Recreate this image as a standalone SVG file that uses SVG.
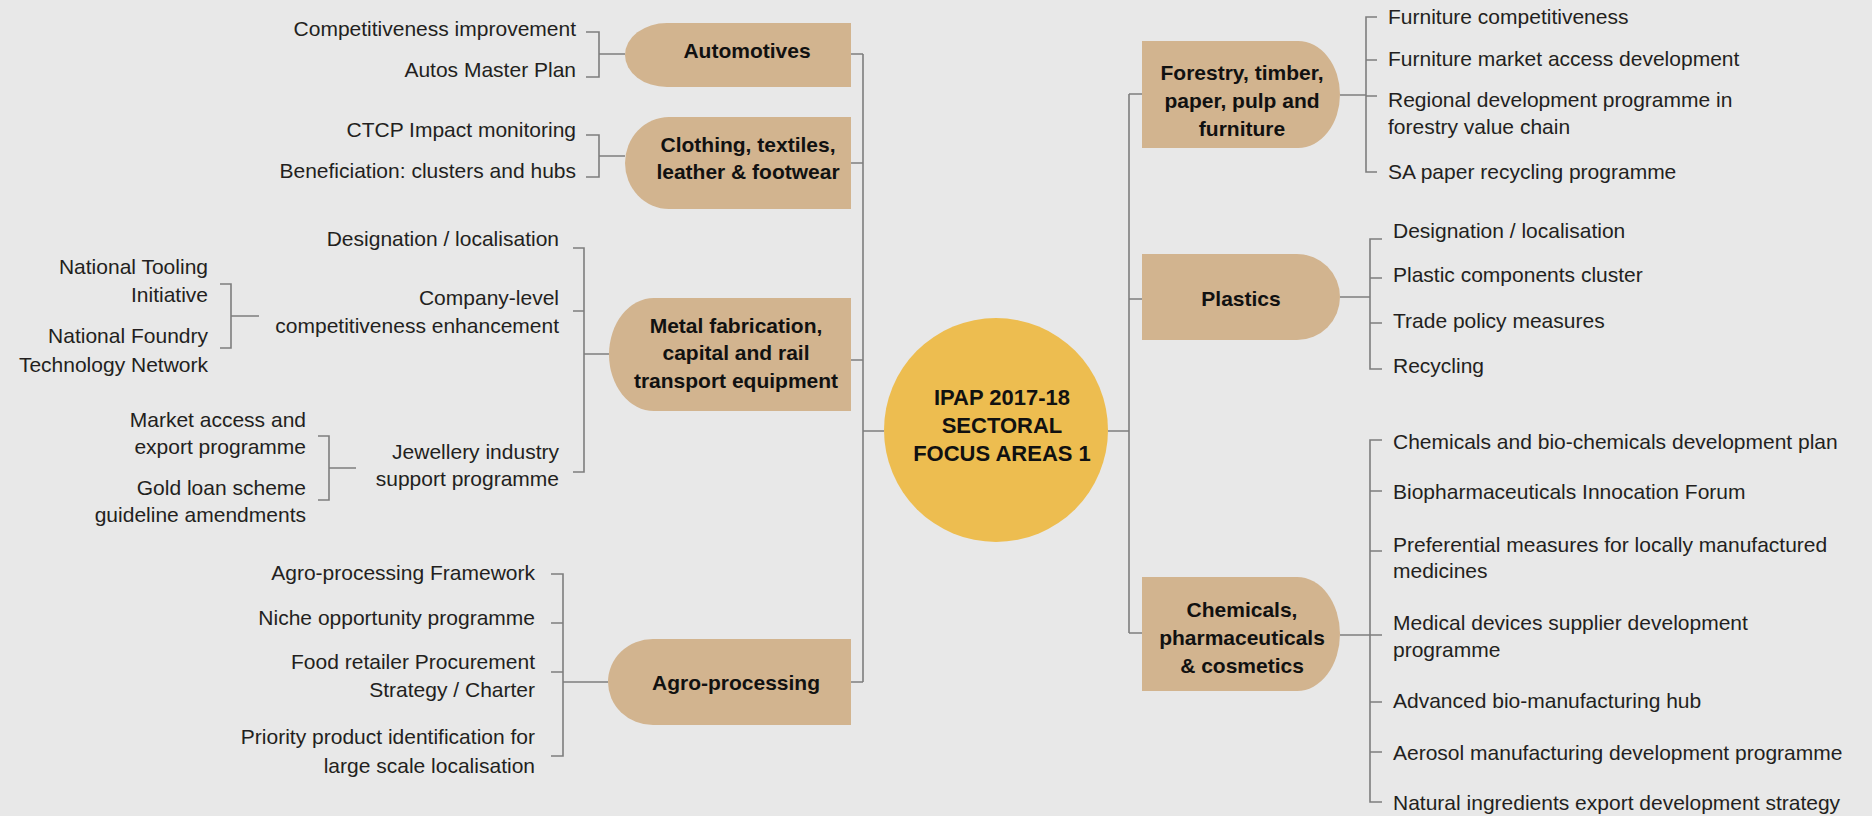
<svg xmlns="http://www.w3.org/2000/svg" width="1872" height="816" viewBox="0 0 1872 816">
<style>
.bg{fill:#e8e8e8}
.node{fill:#d2b48f}
.hub{fill:#edbd50}
.ln{fill:none;stroke:#7d7d7d;stroke-width:1.6}
.t{font-family:"Liberation Sans",Arial,sans-serif;font-size:21px;fill:#231f20}
.r{text-anchor:end}
.b{font-family:"Liberation Sans",Arial,sans-serif;font-size:21px;font-weight:bold;fill:#111;text-anchor:middle}
.h{font-size:22px}
</style>
<rect class="bg" x="0" y="0" width="1872" height="816"/>
<g id="connectors">
<path class="ln" d="M863 54 V682 M851 54 H863 M851 163 H863 M851 360 H863 M851 682 H863 M863 431 H884"/>
<path class="ln" d="M1129 94 V633 M1129 94 H1142 M1129 299 H1142 M1129 633 H1142 M1108 431 H1129"/>
<path class="ln" d="M586 32 H599 V77 H586 M599 54 H625"/>
<path class="ln" d="M586 135 H599 V177 H586 M599 156 H625"/>
<path class="ln" d="M573 248 H584 V472 H573 M573 311 H584 M584 354 H609"/>
<path class="ln" d="M220 284 H231 V348 H220 M231 316 H259"/>
<path class="ln" d="M318 436 H329 V500 H318 M329 468 H356"/>
<path class="ln" d="M551 574 H563 V756 H551 M551 623 H563 M551 672 H563 M563 682 H608"/>
<path class="ln" d="M1377 17 H1366 V172 H1377 M1366 60 H1377 M1366 96 H1377 M1340 95 H1366"/>
<path class="ln" d="M1382 239 H1370 V369 H1382 M1370 278 H1382 M1370 323 H1382 M1340 297 H1370"/>
<path class="ln" d="M1382 440 H1370 V802 H1382 M1370 491 H1382 M1370 551 H1382 M1370 635 H1382 M1370 702 H1382 M1370 752 H1382 M1340 635 H1370"/>
</g>
<g id="hub">
<circle class="hub" cx="996" cy="430" r="112"/>
<text class="b h" x="1002" y="405">IPAP 2017-18</text>
<text class="b h" x="1002" y="433">SECTORAL</text>
<text class="b h" x="1002" y="461">FOCUS AREAS 1</text>
</g>
<g id="automotives">
<path class="node" d="M851 23 H667 A42 32 0 0 0 667 87 H851 Z"/>
<text class="b" x="747" y="58">Automotives</text>
<text class="t r" x="576" y="36">Competitiveness improvement</text>
<text class="t r" x="576" y="77">Autos Master Plan</text>
</g>
<g id="clothing">
<path class="node" d="M851 117 H669 A44 46 0 0 0 669 209 H851 Z"/>
<text class="b" x="748" y="152">Clothing, textiles,</text>
<text class="b" x="748" y="179">leather &amp; footwear</text>
<text class="t r" x="576" y="137">CTCP Impact monitoring</text>
<text class="t r" x="576" y="178">Beneficiation: clusters and hubs</text>
</g>
<g id="metal">
<path class="node" d="M851 298 H654 A45 56.5 0 0 0 654 411 H851 Z"/>
<text class="b" x="736" y="333">Metal fabrication,</text>
<text class="b" x="736" y="360">capital and rail</text>
<text class="b" x="736" y="388">transport equipment</text>
<text class="t r" x="559" y="246">Designation / localisation</text>
<text class="t r" x="559" y="305">Company-level</text>
<text class="t r" x="559" y="333">competitiveness enhancement</text>
<text class="t r" x="559" y="459">Jewellery industry</text>
<text class="t r" x="559" y="486">support programme</text>
<text class="t r" x="208" y="274">National Tooling</text>
<text class="t r" x="208" y="302">Initiative</text>
<text class="t r" x="208" y="343">National Foundry</text>
<text class="t r" x="208" y="372">Technology Network</text>
<text class="t r" x="306" y="427">Market access and</text>
<text class="t r" x="306" y="454">export programme</text>
<text class="t r" x="306" y="495">Gold loan scheme</text>
<text class="t r" x="306" y="522">guideline amendments</text>
</g>
<g id="agro">
<path class="node" d="M851 639 H653 A45 43 0 0 0 653 725 H851 Z"/>
<text class="b" x="736" y="690">Agro-processing</text>
<text class="t r" x="535" y="580">Agro-processing Framework</text>
<text class="t r" x="535" y="625">Niche opportunity programme</text>
<text class="t r" x="535" y="669">Food retailer Procurement</text>
<text class="t r" x="535" y="697">Strategy / Charter</text>
<text class="t r" x="535" y="744">Priority product identification for</text>
<text class="t r" x="535" y="773">large scale localisation</text>
</g>
<g id="forestry">
<path class="node" d="M1142 41 H1298 A42 53.5 0 0 1 1298 148 H1142 Z"/>
<text class="b" x="1242" y="80">Forestry, timber,</text>
<text class="b" x="1242" y="108">paper, pulp and</text>
<text class="b" x="1242" y="136">furniture</text>
<text class="t" x="1388" y="24">Furniture competitiveness</text>
<text class="t" x="1388" y="66">Furniture market access development</text>
<text class="t" x="1388" y="107">Regional development programme in</text>
<text class="t" x="1388" y="134">forestry value chain</text>
<text class="t" x="1388" y="179">SA paper recycling programme</text>
</g>
<g id="plastics">
<path class="node" d="M1142 254 H1297 A43 43 0 0 1 1297 340 H1142 Z"/>
<text class="b" x="1241" y="306">Plastics</text>
<text class="t" x="1393" y="238">Designation / localisation</text>
<text class="t" x="1393" y="282">Plastic components cluster</text>
<text class="t" x="1393" y="328">Trade policy measures</text>
<text class="t" x="1393" y="373">Recycling</text>
</g>
<g id="chemicals">
<path class="node" d="M1142 577 H1297 A43 57 0 0 1 1297 691 H1142 Z"/>
<text class="b" x="1242" y="617">Chemicals,</text>
<text class="b" x="1242" y="645">pharmaceuticals</text>
<text class="b" x="1242" y="673">&amp; cosmetics</text>
<text class="t" x="1393" y="449">Chemicals and bio-chemicals development plan</text>
<text class="t" x="1393" y="499">Biopharmaceuticals Innocation Forum</text>
<text class="t" x="1393" y="552">Preferential measures for locally manufactured</text>
<text class="t" x="1393" y="578">medicines</text>
<text class="t" x="1393" y="630">Medical devices supplier development</text>
<text class="t" x="1393" y="657">programme</text>
<text class="t" x="1393" y="708">Advanced bio-manufacturing hub</text>
<text class="t" x="1393" y="760">Aerosol manufacturing development programme</text>
<text class="t" x="1393" y="810">Natural ingredients export development strategy</text>
</g>
</svg>
